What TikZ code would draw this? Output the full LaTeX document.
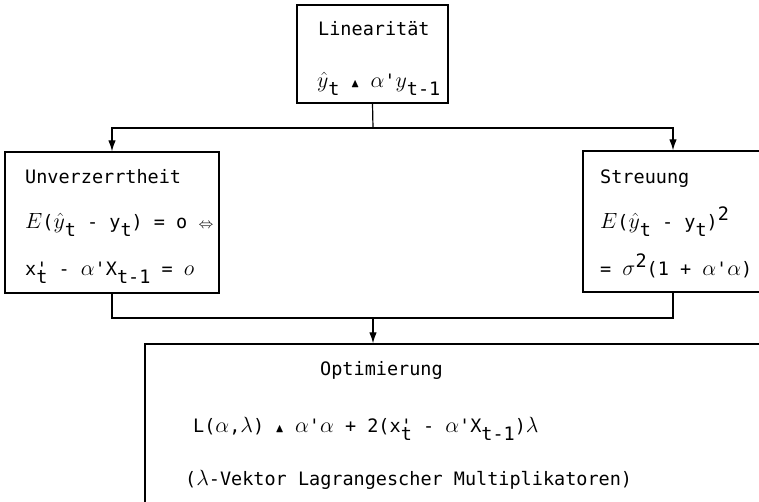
\RequirePackage{fix-cm}
\documentclass[tikz,border=0pt]{standalone}
\usepackage{amssymb}
\usepackage{graphicx}
\usepackage{fontspec}
\setmainfont{DejaVu Sans Mono}[Ligatures=TeXOff]
\usetikzlibrary{arrows.meta}
\newcommand\lowr[1]{\raisebox{-8pt}{#1}}
\newcommand\highr[1]{\raisebox{8pt}{#1}}
\newcommand\mth[1]{{\fontsize{22}{26}\selectfont$#1$}}
\newcommand\tri{\scalebox{0.65}{$\blacktriangle$}}
\newcommand\xpt{x\rlap{'}\lowr{t}}
\begin{document}
\begin{tikzpicture}[x=1pt,y=-1pt,
  box/.style={draw, line width=1.3pt, inner sep=0pt},
  txt/.style={anchor=base west, inner sep=0pt, font=\fontsize{18.5}{22}\selectfont},
  conn/.style={line width=1.2pt},
  arr/.style={line width=1.2pt, -{Latex[length=11pt,width=7.5pt]}}]
\useasboundingbox (0,0) rectangle (759,501);
\clip (0,0) rectangle (759,501);
% boxes
\node[box, minimum width=151pt, minimum height=98pt] (lin) at (372.5,54) {};
\node[box, minimum width=214pt, minimum height=141pt] (unv) at (112,222.5) {};
\node[box, minimum width=190pt, minimum height=141pt] (str) at (678,221.5) {};
\node[box, minimum width=640pt, minimum height=180pt] (opt) at (465,434) {};
% texts
\node[txt] (t1) at (318,35) {Linearität};
\node[txt] (t2) at (317,87) {\mth{\hat{y}}\lowr{t} \tri{} \mth{\alpha}'\mth{y}\lowr{t-1}};
\node[txt] (u1) at (25,183) {Unverzerrtheit};
\node[txt] (u2) at (25,228) {\mth{E}(\mth{\hat{y}}\lowr{t} - y\lowr{t}) = o \scalebox{0.8}{$\Leftrightarrow$}};
\node[txt] (u3) at (25,275) {\xpt{} - \mth{\alpha}'X\lowr{t-1} = \mth{o}};
\node[txt] (s1) at (600,183) {Streuung};
\node[txt] (s2) at (600,228) {\mth{E}(\mth{\hat{y}}\lowr{t} - y\lowr{t})\highr{2}};
\node[txt] (s3) at (600,275) {= \mth{\sigma}\highr{2}(1 + \mth{\alpha}'\mth{\alpha})};
\node[txt] (o1) at (320,375) {Optimierung};
\node[txt] (o2) at (193,432) {L(\mth{\alpha},\mth{\lambda}) \tri{} \mth{\alpha}'\mth{\alpha} + 2(\xpt{} - \mth{\alpha}'X\lowr{t-1})\mth{\lambda}};
\node[txt] (o3) at (185,485) {(\mth{\lambda}-Vektor Lagrangescher Multiplikatoren)};
% connectors
\coordinate (j1) at (373,128);
\coordinate (j2) at (373,318);
\draw[conn] (lin.south) -- (j1);
\draw[arr] (j1) -| (unv.north);
\draw[arr] (j1) -| ([xshift=-5pt]str.north);
\draw[conn] (unv.south) |- (j2);
\draw[conn] ([xshift=-5pt]str.south) |- (j2);
\draw[arr] (j2) -- (j2 |- opt.north);
\end{tikzpicture}
\end{document}
